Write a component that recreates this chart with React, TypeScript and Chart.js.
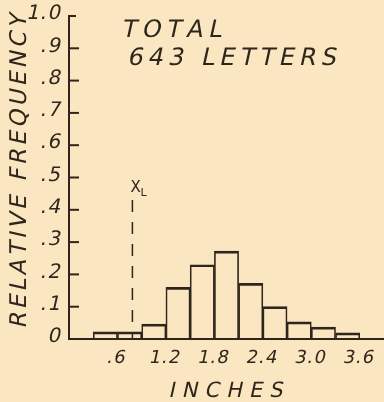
import React, { useEffect, useRef } from "react";
import { Chart, registerables } from "chart.js";

Chart.register(...registerables);

// Histogram bins (inches): centres of 0.3-inch classes
const binCenters = [0.45, 0.75, 1.05, 1.35, 1.65, 1.95, 2.25, 2.55, 2.85, 3.15, 3.45];
const relFreq = [0.022, 0.022, 0.046, 0.16, 0.23, 0.272, 0.172, 0.1, 0.053, 0.037, 0.019];

const xTickValues = [0.6, 1.2, 1.8, 2.4, 3.0, 3.6];
const xTickLabels = [".6", "1.2", "1.8", "2.4", "3.0", "3.6"];
const yTickValues = [0, 0.1, 0.2, 0.3, 0.4, 0.5, 0.6, 0.7, 0.8, 0.9, 1.0];
const yTickLabels = ["0", ".1", ".2", ".3", ".4", ".5", ".6", ".7", ".8", ".9", "1.0"];

const xLimit = 0.785; // X_L marker position (inches)
const xLimitTop = 0.43; // top of the dashed marker (relative frequency)
const titleLines = ["TOTAL", "643 LETTERS"];
const xTitle = "INCHES";
const yTitle = "RELATIVE FREQUENCY";

const BG = "#fae6c0";
const INK = "#2e261c";
const FONT = "'DejaVu Sans', sans-serif";
const SLANT = 0.22;

// draws slanted text char by char with extra spacing; align: left | center | right
function slantText(
  ctx: any,
  text: string,
  x: number,
  y: number,
  spacing: number,
  align: string,
  rotate = 0
) {
  const chars = Array.from(text);
  const widths = chars.map((c) => ctx.measureText(c).width);
  const total = widths.reduce((a, b) => a + b, 0) + spacing * (chars.length - 1);
  let cx = align === "center" ? -total / 2 : align === "right" ? -total : 0;
  ctx.save();
  ctx.translate(x, y);
  if (rotate) ctx.rotate(rotate);
  ctx.transform(1, 0, -SLANT, 1, 0, 0);
  ctx.textAlign = "left";
  chars.forEach((c, i) => {
    ctx.fillText(c, cx, 0);
    cx += widths[i] + spacing;
  });
  ctx.restore();
}

export default function App() {
  const ref = useRef<HTMLCanvasElement | null>(null);

  useEffect(() => {
    if (!ref.current) return;

    const decorations = {
      id: "decorations",
      beforeDraw(chart: any) {
        const { ctx, width, height } = chart;
        ctx.save();
        ctx.fillStyle = BG;
        ctx.fillRect(0, 0, width, height);
        ctx.restore();
      },
      afterDraw(chart: any) {
        const { ctx, chartArea } = chart;
        const xs = chart.scales.x;
        const ys = chart.scales.y;
        ctx.save();
        ctx.strokeStyle = INK;
        ctx.fillStyle = INK;
        // inside tick marks on the y axis
        ctx.lineWidth = 2;
        yTickValues.forEach((v) => {
          const y = ys.getPixelForValue(v);
          ctx.beginPath();
          ctx.moveTo(chartArea.left, y);
          ctx.lineTo(chartArea.left + (v === 1 ? 7 : 10), y);
          ctx.stroke();
        });
        // tick labels
        ctx.textBaseline = "middle";
        ctx.font = `20px ${FONT}`;
        yTickValues.forEach((v, i) => {
          slantText(ctx, yTickLabels[i], chartArea.left - 8, ys.getPixelForValue(v) - 2, 1, "right");
        });
        ctx.font = `18px ${FONT}`;
        xTickValues.forEach((v, i) => {
          slantText(ctx, xTickLabels[i], xs.getPixelForValue(v) - 1, chartArea.bottom + 19, 1, "center");
        });
        // dashed X_L marker
        const xp = xs.getPixelForValue(xLimit);
        ctx.lineWidth = 1.5;
        ctx.setLineDash([12, 10]);
        ctx.beginPath();
        ctx.moveTo(xp, ys.getPixelForValue(xLimitTop));
        ctx.lineTo(xp, ys.getPixelForValue(0));
        ctx.stroke();
        ctx.setLineDash([]);
        ctx.textBaseline = "alphabetic";
        ctx.textAlign = "left";
        ctx.font = `15px ${FONT}`;
        ctx.fillText("X", xp - 2, ys.getPixelForValue(xLimitTop) - 8);
        ctx.font = `11px ${FONT}`;
        ctx.fillText("L", xp + 8, ys.getPixelForValue(xLimitTop) - 4);
        // title text
        ctx.font = `24px ${FONT}`;
        slantText(ctx, titleLines[0], chartArea.left + 52, chartArea.top + 21, 5.5, "left");
        slantText(ctx, titleLines[1], chartArea.left + 58, chartArea.top + 49, 5, "left");
        // x axis title
        ctx.font = `21px ${FONT}`;
        ctx.textBaseline = "middle";
        slantText(ctx, xTitle, (chartArea.left + chartArea.right) / 2, chartArea.bottom + 53, 7, "center");
        // y axis title
        ctx.font = `23px ${FONT}`;
        slantText(ctx, yTitle, 20, (chartArea.top + chartArea.bottom) / 2 - 7, 3.3, "center", -Math.PI / 2);
        ctx.restore();
      },
    };

    const chart = new Chart(ref.current, {
      type: "bar",
      data: {
        datasets: [
          {
            data: binCenters.map((x, i) => ({ x, y: relFreq[i] })),
            backgroundColor: "rgba(0,0,0,0)",
            borderColor: INK,
            borderWidth: { top: 2, left: 1, right: 1, bottom: 0 },
            borderSkipped: "bottom",
            barPercentage: 1,
            categoryPercentage: 1,
          },
        ],
      },
      options: {
        responsive: false,
        animation: false,
        layout: { padding: { top: 16, right: 0, left: 0, bottom: 0 } },
        plugins: {
          legend: { display: false },
          tooltip: { enabled: false },
        },
        scales: {
          x: {
            type: "linear",
            min: 0,
            max: 3.9,
            offset: false,
            grid: { display: false, drawTicks: false },
            border: { display: true, color: INK, width: 2 },
            afterBuildTicks: (scale: any) => {
              scale.ticks = xTickValues.map((v) => ({ value: v }));
            },
            afterFit: (scale: any) => {
              scale.height = 63;
            },
            ticks: { display: false },
            title: { display: false, text: xTitle },
          },
          y: {
            min: 0,
            max: 1,
            grid: { display: false, drawTicks: false },
            border: { display: true, color: INK, width: 2 },
            afterBuildTicks: (scale: any) => {
              scale.ticks = yTickValues.map((v) => ({ value: v }));
            },
            afterFit: (scale: any) => {
              scale.width = 69;
            },
            ticks: { display: false },
            title: { display: false, text: yTitle },
          },
        },
      },
      plugins: [decorations],
    } as any);

    return () => chart.destroy();
  }, []);

  return (
    <div style={{ position: "absolute", left: 0, top: 0, width: 384, height: 402, background: BG }}>
      <canvas ref={ref} width={384} height={402} style={{ display: "block" }} />
    </div>
  );
}
